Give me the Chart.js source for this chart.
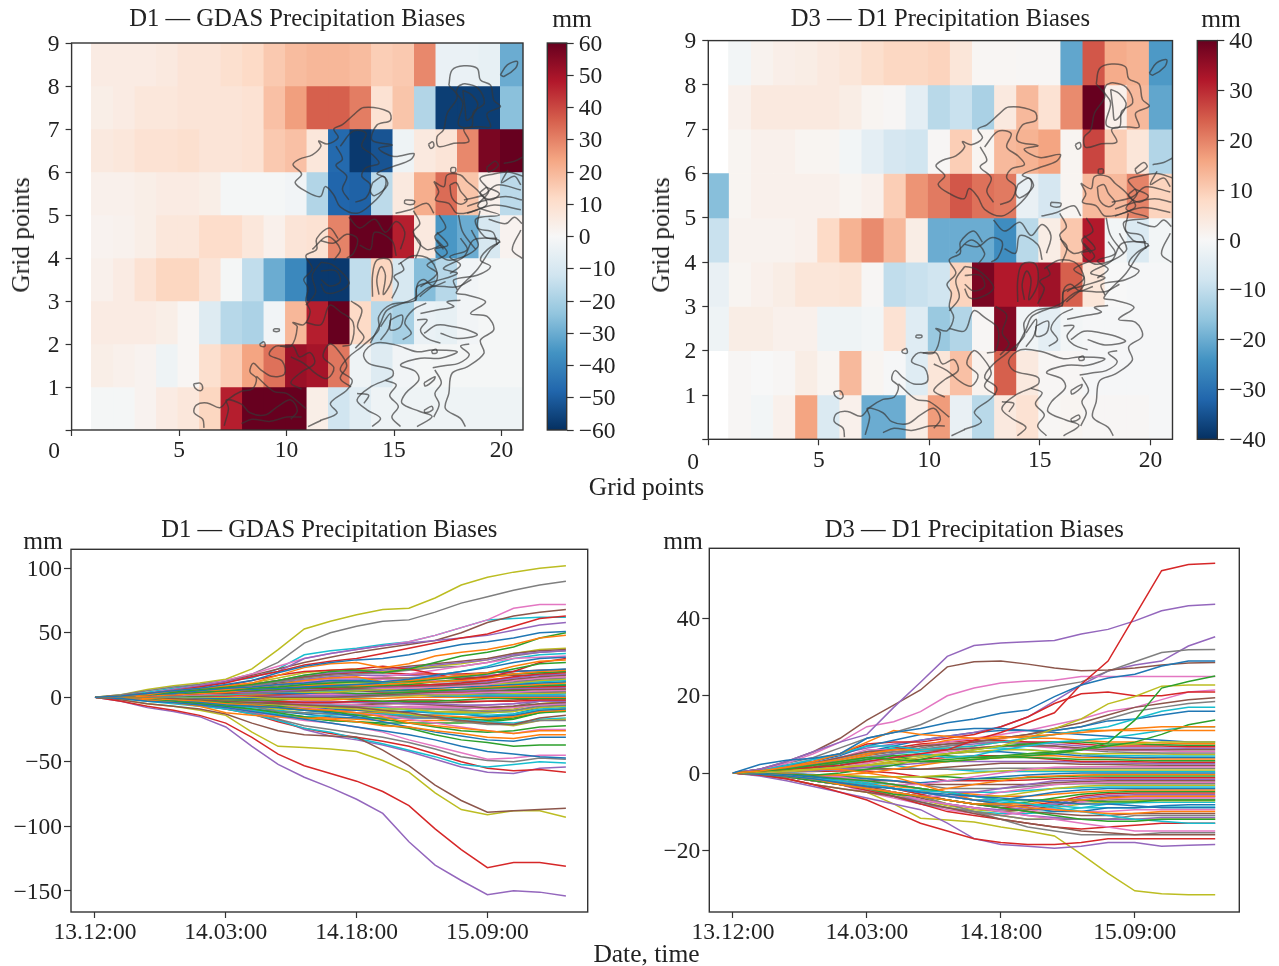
<!DOCTYPE html>
<html>
<head>
<meta charset="utf-8">
<title>Precipitation Biases</title>
<script src="https://cdn.jsdelivr.net/npm/chart.js@4"></script>
<style>
  html, body { margin: 0; padding: 0; background: #fff; }
  body { position: relative; width: 1279px; height: 966px; overflow: hidden; }
  canvas { position: absolute; }
  .lbl { position: absolute; transform: translate(-50%, -50%); font-family: "Liberation Serif", serif; font-size: 25.5px; color: #222; white-space: nowrap; }
  .rot { transform: translate(-50%, -50%) rotate(-90deg); }
  .tick0 { font-size: 23.5px; }
</style>
</head>
<body>
<canvas id="heatD1"></canvas>
<canvas id="barD1"></canvas>
<canvas id="heatD3"></canvas>
<canvas id="barD3"></canvas>
<canvas id="linesD1"></canvas>
<canvas id="linesD3"></canvas>

<div class="lbl" style="left:572px;top:19px">mm</div>
<div class="lbl" style="left:1221px;top:19px">mm</div>
<div class="lbl" style="left:43px;top:541px">mm</div>
<div class="lbl" style="left:683px;top:541px">mm</div>
<div class="lbl rot" style="left:21px;top:235px">Grid points</div>
<div class="lbl rot" style="left:661px;top:235px">Grid points</div>
<div class="lbl" style="left:646.5px;top:487px">Grid points</div>
<div class="lbl" style="left:646.5px;top:954px">Date, time</div>
<div class="lbl tick0" style="left:54px;top:450px">0</div>
<div class="lbl tick0" style="left:693px;top:461px">0</div>

<script>
// ==========================================
// DATA: HEATMAPS (rows bottom to top, columns left to right)
// ==========================================
const columnEdges = [0, 0.9, 1.9, 2.9, 3.9, 4.9, 5.9, 6.9, 7.9, 8.9, 9.9, 10.9, 11.9, 12.9, 13.9, 14.9, 15.9, 16.9, 17.9, 18.9, 19.9, 21];
const gridRowTicks = [1, 2, 3, 4, 5, 6, 7, 8, 9];
const gridColTicks = [0, 5, 10, 15, 20];

const d1GdasCells = [
  [null, -1, -1, 2, 5, 7, 13, 47, 60, 60, 60, 4, -12, -7, -3, -3, -3, -3, -3, -3, -3],
  [null, 4, 3, 2, -3, 1, 10, 15, 24, 33, 52, 50, 32, -3, -8, -2, -1, -1, -1, -1, -1],
  [null, 5, 5, 5, 4, 1, -8, -17, -19, -2, 20, 47, 60, 12, -17, -20, -4, -5, -2, -1, -1],
  [null, 3, 5, 9, 13, 13, 8, -1, -15, -30, -39, -58, -58, -15, 13, -10, -26, -17, -2, -1, -1],
  [null, 2, 2.5, 4, 7, 7, 11, 11, 7, 3, 8, 9, 30, 60, 60, 47, 6, -35, -30, -10, 2],
  [null, 3, 3, 4, 5, 5, 4, -1, -1, -1, -2, -18, -48, -49, -16, 6, 22, 34, 17, 3, -16],
  [null, 6, 7, 9, 9, 10, 8, 8, 9, 16, 18, 7, -47, -58, -52, -3, 6, 8, 29, 57, 60],
  [null, 4, 5, 7, 7, 8, 8, 8, 9, 18, 25, 36, 36, 31, 9, 17, -18, -57, -57, -57, -25],
  [null, 5, 5, 5, 6, 8, 8, 10, 12, 16, 19, 20, 20, 19, 15, 16, 29, -4, -4, -5, -30]
];

const d3D1Cells = [
  [null, 0.5, -1, 2, 16, -6, 2, -20, -20, 3, 17, -3, -11, 4, 6, 0.5, 1, 0.5, 0.5, 0.5, -0.5],
  [null, 0.5, 0, 0.5, 3, 1, 13, 1, -0.5, -5, 5, 12, 1.5, 24, 4, 0.5, 0.5, -0.5, -0.5, -0.5, -0.5],
  [-2, 3, 3, 2, 2, -2, -2, -1, 6, -5, -15, -12, 0.5, 37, -1.5, -4, -1, -0.5, -0.5, -0.5, -0.5],
  [-3, 1, 2, 3, 5, 5, 5.5, 0.5, -10, -9, -8, 9, 38, 32, 32, 34, 24, 5, 0, -0.5, -0.5],
  [-9, 1.5, 1.5, 1.5, 2, 8, 14, 19, 13, 3, -20, -20, -20, -25, -11, 3, 11, 32, -1, -6, -1],
  [-17, 1, 2, 2, 2, 2, 1, 2, 10, 18, 21, 25, 22, 21, -3, -7, 1, 13, 13, 20, 9],
  [null, 1, 2, 2, 1, 1, -1, -4, -7, -8, 0.5, 10, 1, 13, 14, 16, 1, 27, 10, 5, -12],
  [null, 2, 4, 4, 4, 4, 3, 1, 0.5, -4, -11, -9, -13, 4, 13, 6, 19, 40, 2, 13, -21],
  [null, -1, 1.5, 2.5, 3, 4, 5, 7, 8.5, 8.5, 9, 5, 0.7, 0.7, 0.5, 0.5, -21, 25, 15, 14, -23]
];

// ==========================================
// DATA: TERRAIN CONTOURS (grid point units, shared by both maps)
// ==========================================
const terrainContours = [
  [[18.32,.08],[18.09,.27],[17.39,.5],[17.55,.85],[17.7,1.32],[18.4,1.47],[19.18,1.78],[19.02,2.09],[19.64,2.33],[19.33,2.64],[18.56,2.71],[19.26,2.98],[18.4,3.14],[17.9,3.2],[18.9,3.75],[19.5,4.2],[19.9,4.4],[19.2,4.5],[18.8,4.9],[19.9,5.0],[18.9,5.2],[19.4,5.55],[19.0,5.85],[19.6,5.95],[20.3,6.0],[21,5.9]],
  [[16.07,.08],[16.77,.31],[16.2,.43],[15.37,.62],[15.53,.85],[16.15,1.16],[16,1.36],[15.3,1.51],[16.23,1.67],[17.16,1.67],[17.94,1.82],[16.77,1.86],[16.07,1.82],[15.06,1.98],[14.13,2.02],[13.59,1.78],[13.82,1.55],[14.91,1.4],[14.91,1.24],[13.9,1.0],[13.28,.7],[13.74,.47],[14.37,.27],[13.98,.08]],
  [[11.57,.22],[12.35,.39],[12.04,.62],[12.81,.93],[13.05,1.16],[12.5,1.4],[12.9,1.7],[13.5,1.94],[14.29,2.33],[14.29,2.64],[14.83,2.91],[16,3.02],[16.07,3.33],[16.85,3.45],[17.94,3.64],[17.3,3.76],[18.25,4.03],[18.71,4.42],[19.8,4.46]],
  [[13.9,2.02],[14.37,2.48],[14.68,2.79],[15.9,3.05],[16.7,3.33],[17.94,3.33],[18.6,3.5]],
  [[14.83,2.56],[15.37,2.67],[15.3,2.4],[14.83,2.33],[14.83,2.56]],
  [[16.75,1.84],[16.95,1.88],[17.0,1.8],[16.8,1.78],[16.75,1.84]],
  [[16.4,1.1],[16.9,1.24],[16.85,1.16],[16.45,1.02],[16.4,1.1]],
  [[16.4,.46],[16.75,.55],[16.8,.47],[16.45,.4],[16.4,.46]],
  [[11.6,3.9],[12.1,3.85],[12.7,3.6],[12.9,3.4],[12.3,3.2],[11.8,3.2],[11.6,3.4]],
  [[11.6,3.7],[12.3,3.7],[12.5,3.45],[12.0,3.35],[11.6,3.5]],
  [[14.0,3.1],[14.0,3.6],[14.2,3.95],[14.8,3.95],[14.9,3.5],[14.5,3.15],[14.6,3.6],[14.4,3.8],[14.2,3.5],[14.3,3.15]],
  [[15.2,3.85],[15.9,4.05],[16.7,3.95],[17,3.5],[16.2,3.1]],
  [[17,4.6],[17.5,4.3],[16.9,4.2],[17.6,3.95],[18.9,4.26],[18.6,4.65]],
  [[13.12,7.33],[13.59,7.5],[14.75,7.4],[14.83,7.2],[14.2,7.09],[13.98,6.74],[14.91,6.63],[14.29,6.55],[14.99,6.36],[15.92,6.43],[15.76,6.28],[14.91,6.12],[14.21,5.97],[14.6,5.85],[14.52,5.58],[13.98,5.27],[13.28,5.04],[12.5,5.19],[12.19,5.47],[11.8,5.66],[11.57,5.43],[10.9,5.55],[10.4,5.75],[10.7,5.95],[10.3,6.17],[10.6,6.3],[11.2,6.4],[11.6,6.6],[11.5,6.72],[11.9,6.65],[12.4,6.8],[12.2,7.0],[12.6,7.1],[13.12,7.33]],
  [[12.5,6.6],[13.1,6.95],[13.7,6.9],[13.5,6.6],[14.0,6.4],[14.3,6.2],[13.7,6.1],[13.5,5.9],[13.9,5.7],[13.7,5.4],[13.2,5.3]],
  [[12.3,6.6],[12.6,6.3],[12.3,6.15],[12.8,5.9],[12.6,5.6],[12.9,5.35]],
  [[17.55,8.02],[17.7,8.37],[18.25,8.47],[18.87,8.41],[19.02,8.14],[19.49,8.02],[19.64,7.67],[19.95,7.52],[19.33,7.36],[19.49,7.05],[19.02,7.05],[18.25,7.0],[18.48,6.71],[17.78,6.67],[17.08,6.59],[17,6.82],[17.3,6.98],[17.47,7.36],[17.94,7.75],[17.55,8.02]],
  [[18.0,8.0],[18.3,8.05],[18.9,7.95],[19.2,7.6],[18.7,7.4],[18.6,7.05],[18.0,7.1],[18.2,7.6],[17.9,7.85],[18.0,8.0]],
  [[18.2,7.9],[18.6,7.8],[18.9,7.55],[18.4,7.2],[18.3,7.5],[18.2,7.9]],
  [[19.95,8.26],[20.27,8.49],[20.73,8.57],[20.65,8.41],[20.11,8.22],[19.95,8.26]],
  [[16.6,6.65],[16.8,6.7],[16.85,6.6],[16.7,6.55],[16.6,6.65]],
  [[17.65,6.1],[17.85,6.1],[17.85,6.0],[17.65,6.0],[17.65,6.1]],
  [[19.3,6.1],[19.7,6.25],[19.85,6.15],[19.4,6.0],[19.3,6.1]],
  [[20.1,6.2],[20.6,6.25],[21,6.35]],
  [[16.85,5.78],[17.08,5.54],[16.93,5.35],[17.55,5.27],[17.94,5.04],[18.87,5.12],[19.33,5.27],[18.87,5.58],[18.4,5.78],[18.09,5.93],[17.47,5.93],[17.32,5.66],[16.85,5.78]],
  [[17.6,5.7],[17.9,5.75],[18.1,5.55],[18.4,5.35],[18.1,5.25],[17.7,5.4],[17.6,5.7]],
  [[18.25,5.35],[19.18,5.47],[19.8,5.7],[20.9,5.58]],
  [[18.4,5.2],[19.3,5.35],[20.2,5.43],[20.95,5.35]],
  [[18.4,5.04],[19.65,5.23],[20.9,5.12]],
  [[11.6,4.4],[12.2,4.35],[12.8,4.55],[13.3,4.45],[13.1,4.1],[12.8,4.0]],
  [[15.9,5.1],[16.2,4.8],[15.9,4.6],[16.5,4.2],[17.2,4.3]],
  [[17.1,5.0],[17.4,4.7],[16.9,4.5],[17.3,4.2]],
  [[18,5.0],[18.2,4.6],[18.8,4.2]],
  [[19,5.1],[18.9,4.7],[19.6,4.6],[19.8,4.3]],
  [[20.9,4.65],[20.5,4.19],[20.96,3.99]],
  [[6.16,.05],[6.1,.25],[5.7,.4],[5.8,.58],[6.3,.63],[6.9,.52],[7.3,.72],[7.9,.9],[8.4,.95],[8.6,1.2],[8.3,1.35],[8.45,1.55],[8.8,1.4],[9.3,1.25],[9.9,1.3],[9.8,1.6],[9.2,1.75],[9.5,1.95],[10.2,1.95],[10.5,2.4],[10.3,2.5],[10.8,2.45],[11.1,2.75],[10.9,3],[11.0,3.3],[10.8,3.5],[11.2,3.75],[10.9,4.05],[11.4,4.2],[11.4,4.45],[12,4.7],[12.4,4.45]],
  [[5.67,1.07],[5.98,1.09],[6.1,.97],[5.98,.91],[5.75,.97],[5.67,1.07]],
  [[9.7,1.95],[10.3,1.95],[10.6,1.7],[11.1,1.8],[11.3,1.55],[10.7,1.35],[10.2,1.1],[10.7,.95]],
  [[10.2,1.7],[10.8,1.55],[11.4,1.3],[11.9,1.2],[12.2,1.45],[11.7,1.7],[12,2.0],[12.4,1.85],[12.8,1.5],[12.5,1.2],[13,1.0]],
  [[10.9,2.5],[11.6,2.45],[12,2.9],[12.5,2.75],[13.1,2.5],[13,2.0],[12.6,1.95]],
  [[13,3],[13.5,2.8],[13.3,2.4],[13.6,2.15],[13.2,1.9]],
  [[7.1,.1],[7.3,.5],[7.2,.7],[7.9,.6],[8.3,.4],[9,.35],[9.6,.55],[10.2,.7],[10.5,.45],[10.2,.25]],
  [[7.9,.15],[8.4,.25],[9.2,.2],[10,.3],[10.7,.3]],
  [[8.6,1.25],[9.4,.9],[10,.85],[10.9,.5]],
  [[11,.08],[11.6,.22]],
  [[9.4,2.35],[9.65,2.35],[9.65,2.3],[9.4,2.3],[9.4,2.35]],
  [[8.75,2.0],[8.95,2.05],[9.0,1.95],[8.8,1.95],[8.75,2.0]],
  [[14.37,2.4],[14.83,2.71],[14.75,2.36],[14.37,2.09]],
  [[16.07,2.56],[16.54,2.56],[16.23,2.33],[16.54,2.13],[17.16,2.02]],
  [[17.16,2.25],[17.94,2.13],[18.87,2.21],[18.4,2.33],[17.78,2.4],[17,2.44],[16.4,2.25]],
  [[16.23,2.71],[17,2.79],[17.78,2.87],[17.47,2.98],[18.09,3.02]],
  [[17.94,3.26],[17.78,3.49],[18.87,3.6],[19.49,3.8],[19.02,3.95],[19.33,4.19],[19.95,4.38]],
  [[17.6,3.64],[18.09,3.84],[17.6,4.03],[18.4,4.19],[18.09,4.46]],
  [[16.23,3.33],[17,3.64],[16.54,3.84],[17.47,4.11],[17,4.42]],
  [[16,3.0],[16.1,3.4],[16.4,3.5],[16.8,3.35],[17.4,3.45]],
  [[15.3,3.9],[15.45,3.72],[15.0,3.57],[15.2,3.4],[14.9,3.06]],
  [[16,3.99],[16.23,4.34],[15.92,4.53]],
  [[13.28,.85],[13.82,.81],[13.6,.62]],
  [[14,5.75],[14.5,5.9],[14.7,5.7],[14.1,5.45],[13.9,5.55],[14,5.75]],
  [[15.5,5.35],[15.95,5.33],[15.9,5.25],[15.5,5.27],[15.5,5.35]],
  [[15.07,5.04],[15.76,5.12],[16.54,5.27],[16.85,5.04]],
  [[19.3,5.65],[19.0,5.5],[19.5,5.35],[19.9,5.5],[19.3,5.65]],
  [[20.3,6.05],[20.0,5.75],[20.6,5.9],[20.9,5.7]],
  [[10.9,2.9],[11.35,3.2],[11.2,3.6],[11.6,3.9]],
  [[11.2,4.2],[11.9,4.5],[12.5,4.2],[12.2,3.95]],
  [[12.9,4.95],[13.4,4.7],[14.1,4.9],[14.6,4.6],[15.1,4.85],[15.5,4.6],[15.3,4.2]],
  [[13.4,4.3],[13.9,4.2],[14.1,4.6],[14.9,4.4],[15.1,4.05]],
  [[19.4,4.9],[20.2,4.8],[20.6,4.95],[20.95,4.8]],
  [[14.6,1.15],[15.1,1.05],[14.8,.8],[15.2,.55],[14.9,.3],[15.3,.08]],
  [[16.9,1.4],[17.2,1.1],[16.9,.85],[17.1,.6],[16.85,.3]],
  [[18.5,2.0],[18.1,1.95],[18.5,1.75],[18.0,1.55],[17.4,1.5],[16.8,1.45]],
  [[15.4,2.1],[15.8,2.25],[15.5,2.5],[15.9,2.8],[16.5,2.95]]
];

// ==========================================
// DATA: TIME SERIES (one value every 3 hours)
// ==========================================
const hoursFromStart = [0, 3, 6, 9, 12, 15, 18, 21, 24, 27, 30, 33, 36, 39, 42, 45, 48, 51, 54];
const dateTickHours = [0, 15, 30, 45];
const dateTickLabels = ['13.12:00', '14.03:00', '14.18:00', '15.09:00'];
const d1ValueTicks = [-150, -100, -50, 0, 50, 100];
const d3ValueTicks = [-20, 0, 20, 40];
const d1ColorTicks = [-60, -50, -40, -30, -20, -10, 0, 10, 20, 30, 40, 50, 60];
const d3ColorTicks = [-40, -30, -20, -10, 0, 10, 20, 30, 40];

const d1GdasSeries = [
  [0,1,3,5,7,10,13,19,24,27,29,30,33,37,41,43,46,50,51],
  [0,1,2,5,7,9,11,17,23,26,27,23,26,32,35,37,41,46,48],
  [0,1,2,4,6,8,10,13,17,20,21,19,22,27,32,35,39,46,50],
  [0,1,3,5,8,11,16,20,25,28,30,34,38,42,46,49,55,61,63],
  [0,1,3,6,9,12,16,20,30,34,37,40,42,44,46,48,52,56,58],
  [0,1,3,5,8,12,17,22,27,31,35,38,41,44,50,58,63,66,68],
  [0,1,3,6,9,13,18,24,30,34,37,40,43,48,54,60,69,72,72],
  [0,2,5,8,10,13,18,27,42,50,55,59,60,66,73,78,83,87,90],
  [0,2,6,9,11,14,22,37,53,59,64,68,69,77,87,93,97,100,102],
  [0,1.5,4,7,10,12.5,15,22,33,36,38,41,43,48,54,60,61,62,62],

  [0,-1,-3,-4,-6,-8,-11,-14,-17,-20,-23,-26,-29,-33,-38,-42,-44,-46,-47],
  [0,-1,-2,-4,-7,-12,-14,-15,-16,-17,-19,-22,-23,-26,-28,-31,-32,-29,-29],
  [0,-1,-2,-3,-5,-7,-9,-12,-15,-18,-19,-21,-24,-29,-33,-35,-38,-37,-37],
  [0,-3,-7,-10,-14,-20,-31,-44,-53,-59,-65,-73,-84,-102,-118,-132,-128,-128,-131],
  [0,-3,-8,-11,-15,-23,-38,-52,-62,-70,-79,-90,-112,-130,-142,-153,-150,-151,-154],
  [0,-2,-5,-7,-9,-13,-20,-26,-29,-30,-31,-41,-53,-68,-80,-89,-88,-87,-86],
  [0,-1,-2,-4,-6,-8,-11,-15,-18,-20,-23,-27,-33,-38,-43,-48,-47,-45,-45],
  [0,-1,-2,-3,-5,-7,-11,-17,-22,-25,-28,-31,-35,-40,-46,-49,-50,-47,-48],
  [0,-2,-5,-7,-10,-14,-27,-38,-39,-40,-42,-49,-58,-74,-87,-91,-88,-88,-93],
  [0,-1,-3,-5,-7,-9,-13,-18,-24,-27,-32,-36,-41,-46,-52,-54,-52,-50,-51],

  [0,1,2,3,5,7,8,10,11,13,13,12,14,17,20,23,27,30,31],
  [0,1,2,3,5,6,8,10,13,15,16,12,13,15,17,19,24,28,29],
  [0,1,2,3,4,5,7,8,10,11,12,12,12,14,16,18,22,26,27],
  [0,1,2,4,6,9,13,17,20,21,22,24,22,18,14,16,20,27,30],
  [0,1,2,4,6,8,10,13,17,19,20,21,23,25,27,29,33,35,36],
  [0,1,2,4,5,7,10,13,16,18,20,22,24,26,28,30,34,36,37],
  [0,1,2,3,5,6,8,10,12,14,15,16,18,21,24,27,30,31,32],
  [0,1,2,3,5,7,9,12,15,17,18,19,21,23,24,27,32,35,36],
  [0,1,2,4,6,8,11,15,19,21,22,20,22,24,26,29,34,37,38],
  [0,1,2,3,5,7,8,10,13,14,15,11,13,17,20,24,30,33,34],

  [0,-1,-2,-3,-4,-6,-7,-8,-10,-12,-15,-19,-23,-27,-30,-33,-34,-31,-31],
  [0,-.5,-1,-2,-3,-5,-6,-8,-9,-10,-12,-15,-20,-22,-24,-26,-28,-26,-26],
  [0,-.5,-1,-2,-3,-4,-6,-7,-9,-11,-14,-17,-20,-23,-26,-27,-26,-23,-22],
  [0,-1,-2,-4,-6,-9,-13,-19,-24,-28,-31,-34,-38,-44,-50,-55,-57,-56,-58],
  [0,-1,-2,-4,-6,-9,-12,-17,-25,-30,-33,-37,-42,-48,-54,-58,-59,-55,-54],
  [0,-.5,-1,-1,-2,-3,-4,-5,-6,-7,-8,-10,-12,-15,-18,-20,-21,-16,-14],
  [0,-.5,-1,-2,-3,-4,-6,-7,-8,-10,-12,-14,-17,-20,-23,-26,-28,-25,-25],
  [0,-.5,-1,-2,-2,-4,-7,-11,-12,-13,-14,-14,-15,-16,-19,-21,-21,-18,-18],
  [0,-.5,-1,-1,-2,-3,-4,-6,-7,-8,-9,-11,-13,-16,-19,-20,-22,-18,-17],
  [0,-.5,-1,-1,-3,-6,-10,-13,-15,-14,-13,-13,-14,-15,-17,-19,-20,-17,-16],

  [0,1,2,3,4,5,6,7,8,9,10,11,13,15,17,19,20,21,22],
  [0,.5,1,2,3,4,6,7,9,10,9,10,11,12,13,15,18,20,21],
  [0,1,2,3,4,5,5,6,7,8,8,9,10,12,14,16,18,19,20],
  [0,1,1,2,3,4,5,6,7,7,8,9,9,10,11,13,16,18,19],
  [0,.5,1,2,3,4,4,5,6,7,8,8,9,10,11,12,15,17,18],
  [0,.5,1.5,2,3,3,4,5,5,6,7,8,9,9,10,11,14,16,17],
  [0,.5,1,2,2,3,4,6,7,8,8,7,7,8,9,10,13,15,16],
  [0,.5,1,1,2,3,3,4,5,6,6,7,8,9,10,11,12,14,15],
  [0,.5,1,2,3,4,5,5,4,4,5,6,7,8,9,10,11,13,14],
  [0,.5,1,1,2,2,3,4,4,5,6,7,8,8,9,10,11,12,13],

  [0,.5,1,2,3,3,3,3,3,4,5,5,6,7,8,9,10,11,12],
  [0,.5,1,1,2,2,2,3,3,4,5,6,7,7,8,8,9,10,11],
  [0,.5,.5,1,1,2,3,4,4,4,3,3,4,5,6,7,8,9,9.5],
  [0,.5,1,1,1,1,2,2,3,4,6,7,9,10,10,9,8,8,8.5],
  [0,.5,.5,1,1,2,2,1,1,1,2,3,4,5,5,6,7,7,7.5],
  [0,.5,1,2,2,2,1,0,0,0,1,2,3,4,5,5,6,6,6.5],
  [0,0,.5,1,1,1,1,2,2,2,2,3,3,3,3,4,4,5,5.5],
  [0,0,.5,.5,1,1,1,1,1,0,0,1,2,3,3,3,4,4,4.5],
  [0,0,0,.5,.5,0,0,-1,-1,-1,0,1,1,2,2,3,3,3,3.5],
  [0,0,0,0,.5,1,1,0,0,0,1,2,2,2,1,2,2,2,2.5],

  [0,0,0,-.5,-.5,-1,-1,0,1,1,1,2,2,1,1,1,1,1,1],
  [0,0,-.5,-.5,-1,-1,-1,-1,-2,-2,-1,-1,0,0,0,0,0,0,0],
  [0,0,-.5,-1,-1,-2,-2,-2,-1,-1,-2,-3,-3,-3,-2,-1,-1,-1,-1],
  [0,0,-.5,-1,-1,-1,-2,-3,-4,-4,-3,-3,-2,-2,-3,-3,-3,-2,-2],
  [0,-.5,-1,-1,-2,-2,-3,-3,-3,-3,-4,-4,-5,-5,-6,-6,-5,-3,-3],
  [0,-.5,-1,-1,-2,-3,-4,-4,-4,-4,-4,-5,-5,-6,-7,-8,-7,-5,-4],
  [0,-.5,-1,-2,-2,-3,-3,-4,-5,-5,-6,-7,-8,-8,-8,-9,-8,-6,-5],
  [0,-.5,-1,-2,-3,-4,-5,-5,-6,-7,-7,-7,-8,-9,-10,-11,-10,-7,-6],
  [0,-.5,-1,-1,-2,-3,-4,-6,-7,-8,-8,-9,-9,-11,-12,-12,-11,-8,-7],
  [0,-.5,-1,-2,-3,-4,-4,-5,-6,-6,-7,-8,-10,-12,-13,-14,-13,-9,-8],

  [0,-.5,-1,-1,-2,-3,-4,-6,-8,-9,-10,-11,-11,-12,-13,-15,-14,-10,-9],
  [0,-.5,-1,-2,-3,-4,-6,-7,-8,-9,-10,-12,-14,-14,-15,-16,-15,-11,-10],
  [0,-.5,-1,-2,-2,-3,-5,-8,-10,-11,-12,-13,-14,-15,-16,-18,-16,-12,-11],
  [0,.8,2,3,5,7,10,13,16,18,19,19,18,18,18,19,20,21,21.5],
  [0,.7,2,3,5,7,9,12,14,16,17,17,17,16,16,17,18,19,19.5],
  [0,.6,1.5,3,5,6,8,11,13,15,15,15,15,15,15,16,17,17,17.5],
  [0,.6,1.5,3,4,6,8,10,12,13,14,14,13,13,13,14,15,15,15.5],
  [0,.5,1.5,2,4,6,7,9,11,12,12,12,12,12,12,13,13,13,13.5],
  [0,.5,1,2,4,5,7,8,10,11,11,11,10,10,10,11,11,11,11.5],
  [0,.5,1,2,3,5,6,8,9,10,10,10,9,9,9,9,10,10,10],
  [0,.4,1,2,3,4,6,7,8,9,9,8,8,8,8,8,8,9,9],
  [0,.3,1,2,3,4,5,6,7,7,7,7,6,6,6,7,7,7,7],
  [0,.3,1,1,2,4,5,6,6,6,6,5,5,5,5,5,5,6,6],
  [0,.3,.5,1,2,3,4,5,5,5,5,4,4,4,4,4,4,4,4],
  [0,.2,.5,1,2,3,3,4,4,3,3,3,3,3,3,2,3,3,3],
  [0,-.2,-.5,-1,-2,-3,-4,-5,-6,-6,-6,-5,-4,-4,-4,-3,-2,-1,-.5],
  [0,-.3,-1,-2,-3,-4,-5,-6,-7,-8,-8,-8,-7,-7,-7,-6,-5,-2,-1.5],
  [0,-.4,-1,-2,-3,-4,-6,-8,-9,-10,-10,-10,-9,-9,-9,-8,-7,-3,-2.5],
  [0,-.4,-1,-2,-3,-5,-7,-9,-10,-11,-12,-12,-11,-11,-11,-10,-9,-5,-3.5],
  [0,-.5,-1,-2,-4,-6,-8,-10,-12,-13,-14,-14,-14,-13,-13,-12,-11,-6,-5],
  [0,-.5,-1,-2,-4,-6,-9,-11,-13,-15,-16,-16,-16,-16,-16,-15,-13,-8,-6.5],
  [0,-.5,-1.5,-3,-4,-7,-10,-13,-15,-16,-17,-18,-18,-18,-18,-17,-15,-10,-8.5],
  [0,-.6,-1.5,-3,-5,-7,-10,-14,-16,-18,-19,-20,-20,-20,-20,-19,-17,-12,-10]
];

const d3D1Series = [
  [0,2.2,3.3,3.8,5,9,10.5,11.5,13,14,15.5,16.3,19.8,22.8,24.6,25.6,27.7,29,29],
  [0,.5,1.5,3,5,8,11,10,9.5,9,9,9.5,10,10.5,11,11,11,11,11],
  [0,.5,1,2,3,4,3.5,3,3.5,4,4.5,5,5.5,6,7.8,13.7,22,23.7,25.1],
  [0,.5,1,1.5,2,3,4,5,6,8.5,10.5,13,15.6,23,29,40.7,52.4,54,54.3],
  [0,1,3,5.5,8,10,17,23.5,30.2,33,33.7,34,34.3,36,37.2,39.4,42,43.3,43.7],
  [0,1,3,5.5,9,13.7,17.6,21.5,27.5,28.8,29,28.2,27.2,26.5,26.7,27.2,28,28.5,28.6],
  [0,1,2.5,5,8,12,13.3,15.9,20,22,23.3,23.8,24,25,25,25,25,25,25],
  [0,1,2.5,4,6.5,9,10.5,12.5,15.5,18,19.8,21,22.4,23.6,26.4,28.8,31.2,31.9,32],
  [0,.3,.8,1,1.5,2,3,4,5,6,7,9,11.5,14,17.9,19.8,22.5,22.8,22.8],
  [0,.7,2,3.5,5,7,7,6,6.5,7,8,9,10,11,12,14,16,17,17],

  [0,1,2,3,4.5,7,8.5,10,11,11.5,11.5,11,11,12,13.5,14,15,16,16],
  [0,.8,1.5,2.5,3.5,5,6,6,6.5,7,8,9,10,11,11,11.5,12,12,12],
  [0,.3,.8,1.5,2.5,3.5,4.5,3,3,3.5,4,4.5,5,6,7,8,10,12.5,13.7],
  [0,.6,1.5,3,5,7.5,8,8,9,10,12,14.5,18,20.5,21,20,20,21,21],
  [0,.8,2,3.5,5,6.5,7.5,8.5,9.5,10.5,12,14.5,18.6,22.8,26.4,28,29,32.9,35.3],
  [0,.5,1.5,2.5,4,5.5,6,7,7.5,8,9,10,11.5,13,15,17,18,19,19.5],
  [0,.5,1.5,2.5,4,6,6,7,8,9,10,11,12.5,14,16,17,19,21,21.5],
  [0,.5,1,2,3.5,5,5.5,6,7,8,9,10,11,12,14,16,17,18,18.5],
  [0,.2,.5,1,1.5,2,2.5,3,3,3.5,4,5,5.5,6,7,7.5,8,8,8],
  [0,.5,1.2,2.5,4,5.5,6.5,5,4,4.5,6,7,8,8.5,9,10,11,12,12],

  [0,-.3,-.8,-1.5,-2.5,-3.5,-4,-5,-5.5,-6,-6.5,-7,-7.5,-8,-8,-8.5,-9,-9,-9],
  [0,-.3,-.8,-1.5,-3,-4,-5,-6,-7,-8,-8,-9,-9.5,-10,-10.5,-10.5,-10,-10,-10],
  [0,-.3,-1,-2,-3,-4,-5.5,-6,-7,-8,-9,-10,-11,-12,-12.5,-12.5,-12,-12,-12],
  [0,-.5,-1.5,-3,-5,-7,-10,-13,-15,-17,-18,-18.5,-18.5,-18,-17,-17,-17,-17,-17],
  [0,-.8,-2,-3.5,-5,-6.5,-8,-9.5,-13,-17,-18.5,-19,-19.5,-19,-18,-18,-19,-18.7,-18.5],
  [0,-.5,-1.5,-3,-4,-5,-6,-7.5,-9,-10.5,-12,-13,-14,-15,-15.5,-16,-16,-16,-16],
  [0,-.5,-1,-2,-3,-4,-5,-7,-8,-9,-10,-11,-12,-13,-14,-15,-15,-15,-15],
  [0,-.4,-1,-2,-3,-4,-5,-6,-8,-10,-12,-14,-15,-16,-16,-16,-15.5,-15.5,-15.5],
  [0,-.5,-1.5,-3,-4,-5,-8,-11.7,-12.2,-12.7,-14,-15,-16.3,-21,-26,-30.5,-31.3,-31.5,-31.5],
  [0,-.3,-.8,-1.5,-2,-3,-4,-4.5,-5,-6,-7,-8,-9,-10,-11,-12,-12.5,-13,-13],

  [0,-.2,-.5,-1,-2,-3,-4,-5,-6,-7,-8,-9,-10,-10,-9,-9,-8.5,-8.2,-8.2],
  [0,.3,.8,1,1,0,-1,-3,-5,-7,-8,-8,-7,-7,-6.5,-6,-6,-6,-6],
  [0,-.2,-.5,-1,-1.5,-2,-3,-4,-5,-6,-7,-7,-7,-7,-7.5,-7.5,-7,-7,-7],
  [0,-.5,-1,-2,-3,-4.5,-6,-8,-10,-11,-12,-13,-14,-14.5,-14,-13.5,-13,-13,-13],
  [0,-.4,-1,-2,-3,-4,-5,-7,-8,-9,-10,-11,-11.5,-12,-12,-12,-11.5,-11.5,-11.5],
  [0,-.3,-1,-1.5,-2.5,-3.5,-5,-6,-7,-8,-9,-10,-10.5,-11,-11,-10.5,-10.5,-10.5,-10.5],
  [0,-.3,-.8,-1.5,-2,-3,-4,-5,-6,-7,-8,-9,-9.5,-10,-10,-9.5,-9.5,-9.5,-9.5],
  [0,-.4,-1,-2,-3,-4,-6,-8,-9,-10,-11,-12,-12,-12,-12,-11,-11,-11,-11],
  [0,-.4,-1,-1.5,-2,-3.5,-5,-6,-8,-10,-11,-12,-12,-12,-12,-12,-12,-12,-12],
  [0,-.2,-.6,-1,-2,-3,-4,-5,-6,-7,-7.5,-8,-8.5,-9,-9,-9,-8.8,-8.8,-8.8],

  [0,.4,1.2,2.4,4,5.5,7,8.5,9.5,10.5,11,11,10.5,10,9.5,9,8.5,8,8],
  [0,.3,1,2,3,4.5,6,7,8.5,9,9.5,9,9,8.5,8,8,7.8,7.6,7.6],
  [0,-.2,-.4,-.6,0,1,2,3.5,5,6,7,7.5,8,8,7.5,7.5,7.3,7.2,7.2],
  [0,.4,1,2,3.5,5,6.5,7.5,8,8.5,8.5,8,8,7.5,7,7,7,6.8,6.8],
  [0,.2,.8,1.5,2.5,3.5,5,6,7,7.5,8,8,7.5,7,6.5,6.5,6.5,6.4,6.4],
  [0,.3,.8,1.5,3,4.5,5.5,6,6,6.5,7,7,7,6.5,6,6,6,6,6],
  [0,.2,.5,1,1.5,2.5,4,5,5.5,6.5,7,7,6.5,6,6,5.8,5.7,5.6,5.6],
  [0,.3,1,2,3,4,5,6.5,7.5,8,8,7.5,7,6,5.5,5.3,5.2,5.2,5.2],
  [0,.1,.3,.8,1.5,2.5,3.5,4.5,5,5.5,6,6,5.5,5,5,5,4.9,4.8,4.8],
  [0,.3,.8,1.5,2.5,4,5,5.5,6,6.5,6.5,6,5.5,5,4.5,4.5,4.4,4.4,4.4],

  [0,.2,.6,1.2,2,3,4,4.5,5,5.5,5.5,5,5,4.5,4.2,4,4,4,4],
  [0,-.1,-.3,-.5,-.5,0,1,2,3,3.5,4,4.5,4.5,4,4,3.8,3.6,3.6,3.6],
  [0,.2,.5,1,2,3.5,4.5,5,4.5,4,4,4,3.8,3.5,3.5,3.3,3.2,3.2,3.2],
  [0,.1,.4,.8,1.5,2,3,3.5,4,4.5,4.5,4,3.5,3,3,2.9,2.8,2.8,2.8],
  [0,.1,.3,.6,1,1.5,2,2.5,3,3,3,3,3,2.8,2.6,2.5,2.4,2.4,2.4],
  [0,.2,.5,1,1.5,1.5,1,1,1.5,2,2.5,2.5,2.5,2.3,2.2,2.1,2,2,2],
  [0,-.1,-.3,-.5,-1,-2,-3,-3,-2,-1,0,1,1.5,1.6,1.6,1.6,1.6,1.6,1.6],
  [0,.1,.3,.6,1,1,1,1,1,1,1.2,1.2,1.2,1.2,1.2,1.2,1.2,1.2,1.2],
  [0,-.1,-.3,-.5,-.5,-1,-1,-1,-.5,0,.5,.8,.8,.8,.8,.8,.8,.8,.8],
  [0,.1,.2,.5,1,2,2,1,1,.5,.4,.4,.4,.4,.4,.4,.4,.4,.4],

  [0,-.1,-.2,-.4,-1,-1.5,-2,-2.5,-2,-1.5,-1,-.5,-.2,0,0,0,0,0,0],
  [0,-.2,-.5,-1,-2,-3,-4,-5,-4,-3,-2,-1,-.8,-.5,-.4,-.4,-.4,-.4,-.4],
  [0,0,-.2,-.5,-.8,-1,-1,-1,-1,-1.5,-1.5,-1.2,-1,-.8,-.8,-.8,-.8,-.8,-.8],
  [0,.1,.3,.4,.5,.5,0,-1,-2,-2,-2,-1.8,-1.5,-1.3,-1.2,-1.2,-1.2,-1.2,-1.2],
  [0,-.2,-.6,-1,-1.5,-2,-3,-4,-5,-5,-4,-3,-2,-1.8,-1.6,-1.6,-1.6,-1.6,-1.6],
  [0,-.1,-.3,-.6,-1,-2,-2,-3,-3,-3,-3,-3,-2.5,-2.2,-2,-2,-2,-2,-2],
  [0,-.3,-.8,-1.5,-2.5,-3.5,-5,-6,-6,-6,-5,-4,-3,-2.6,-2.4,-2.4,-2.4,-2.4,-2.4],
  [0,-.1,-.2,-.5,-1,-1.5,-2,-3,-4,-4,-4,-3.5,-3,-2.8,-2.8,-2.8,-2.8,-2.8,-2.8],
  [0,-.2,-.5,-1,-1.5,-2,-3,-4,-5,-6,-6,-5,-4,-3.4,-3.2,-3.2,-3.2,-3.2,-3.2],
  [0,-.2,-.4,-.8,-1.5,-2.5,-3,-4,-5,-5,-5,-4.5,-4,-3.8,-3.6,-3.6,-3.6,-3.6,-3.6],

  [0,-.3,-.6,-1.2,-2,-3,-4,-5,-6,-7,-7,-6,-5,-4.4,-4,-4,-4,-4,-4],
  [0,-.2,-.5,-1,-2,-3,-3.5,-4,-5,-5.5,-6,-6,-5.5,-5,-4.6,-4.4,-4.4,-4.4,-4.4],
  [0,-.3,-.8,-1.5,-2.5,-4,-5,-6,-7,-8,-8,-7.5,-6.5,-5.5,-5,-4.8,-4.8,-4.8,-4.8],
  [0,-.3,-.7,-1.2,-2,-3,-4,-5.5,-7,-8,-9,-8.5,-7.5,-6,-5.4,-5.2,-5.2,-5.2,-5.2],
  [0,-.4,-1,-1.8,-3,-4.5,-6,-7,-8,-9,-9.5,-9,-8,-6.5,-5.8,-5.6,-5.6,-5.6,-5.6],
  [0,-.3,-.9,-1.5,-2.5,-3.5,-5,-6.5,-8,-9,-10,-9.5,-8.5,-7,-6.2,-6,-6,-6,-6],
  [0,-.4,-1,-2,-3,-5,-6.5,-8,-9.5,-10.5,-11,-10,-9,-7.5,-6.6,-6.4,-6.4,-6.4,-6.4],
  [0,-.2,-.5,-1,-1.5,-2.5,-4,-5.5,-7,-8,-8.5,-8.5,-8,-7.5,-7,-6.8,-6.8,-6.8,-6.8],
  [0,-.3,-.8,-1.5,-2.5,-4,-5.5,-7,-8.5,-9.5,-10,-9.5,-9,-8,-7.4,-7.2,-7.2,-7.2,-7.2],
  [0,-.4,-1,-1.8,-3,-4.5,-6,-7.5,-9,-10,-10.5,-10.5,-10,-9,-8,-7.7,-7.6,-7.6,-7.6]
];

// ==========================================
// STYLE
// ==========================================
const TEXT_COLOR = '#222';
const SPINE_COLOR = '#333';
const FONT_FAMILY = '"Liberation Serif", serif';
const TICK_FONT = { family: FONT_FAMILY, size: 23.5 };
const TITLE_FONT = { family: FONT_FAMILY, size: 24.6, weight: 'normal', lineHeight: 1.2 };
const CYCLE = ['#1f77b4', '#ff7f0e', '#2ca02c', '#d62728', '#9467bd', '#8c564b', '#e377c2', '#7f7f7f', '#bcbd22', '#17becf'];
const RDBU = [[5,48,97],[33,102,172],[67,147,195],[146,197,222],[209,229,240],[247,247,247],[253,219,199],[244,165,130],[214,96,77],[178,24,43],[103,0,31]];

function colorFor(value, limit) {
    const t = Math.max(0, Math.min(1, (value + limit) / (2 * limit))) * (RDBU.length - 1);
    const i = Math.min(Math.floor(t), RDBU.length - 2);
    const f = t - i;
    const c = RDBU[i].map((v, k) => Math.round(v + (RDBU[i + 1][k] - v) * f));
    return `rgb(${c[0]},${c[1]},${c[2]})`;
}

function minusLabel(v) {
    return String(v).replace('-', '\u2212');
}

// Spines all round the plot area
const framePlugin = {
    id: 'frame',
    afterDatasetsDraw(chart) {
        const { ctx, chartArea: a } = chart;
        ctx.save();
        ctx.strokeStyle = SPINE_COLOR;
        ctx.lineWidth = 1.4;
        ctx.strokeRect(a.left, a.top, a.right - a.left, a.bottom - a.top);
        ctx.restore();
    }
};

// ==========================================
// LAYOUT HELPERS
// ==========================================
function placeCanvas(id, left, top, width, height) {
    const canvas = document.getElementById(id);
    canvas.width = width;
    canvas.height = height;
    canvas.style.left = left + 'px';
    canvas.style.top = top + 'px';
    canvas.style.width = width + 'px';
    canvas.style.height = height + 'px';
    return canvas.getContext('2d');
}

function valueAxis(axis, min, max, ticks, fixedSize, opts) {
    return {
        type: 'linear',
        axis,
        position: opts.position,
        min,
        max,
        offset: false,
        border: { display: false },
        grid: { offset: false, drawOnChartArea: false, drawTicks: true, tickLength: opts.tickLength, tickColor: SPINE_COLOR, tickWidth: 1.2 },
        afterBuildTicks(scale) { scale.ticks = ticks.map(v => ({ value: v })); },
        afterFit(scale) {
            if (axis === 'x') scale.height = fixedSize;
            else scale.width = fixedSize;
        },
        ticks: {
            font: TICK_FONT,
            color: TEXT_COLOR,
            padding: opts.padding,
            labelOffset: axis === 'y' ? 1.5 : 0,
            autoSkip: false,
            maxRotation: 0,
            callback: opts.label
        }
    };
}

function titleOptions(text, gap) {
    return {
        display: true,
        text,
        color: TEXT_COLOR,
        font: TITLE_FONT,
        fullSize: false,
        padding: { top: 0, bottom: gap }
    };
}

// ==========================================
// CHARTS
// ==========================================
function drawHeatmap(id, box, plot, title, cells, limit) {
    const ctx = placeCanvas(id, box.left, box.top, box.width, box.height);
    const datasets = [];

    terrainContours.forEach(line => {
        datasets.push({
            type: 'line',
            data: line.map(p => ({ x: p[0], y: p[1] })),
            borderColor: 'rgba(55,55,55,0.68)',
            borderWidth: 1.5,
            pointRadius: 0,
            tension: 0.35,
            order: 0
        });
    });

    for (let c = 0; c < columnEdges.length - 1; c++) {
        const used = cells.map((row, r) => ({ r, v: row[c] })).filter(e => e.v !== null);
        if (used.length === 0) continue;
        datasets.push({
            type: 'bar',
            data: used.map(e => ({ y: e.r + 0.5, x: [columnEdges[c], columnEdges[c + 1] + 0.03] })),
            backgroundColor: used.map(e => colorFor(e.v, limit)),
            borderWidth: 0,
            borderSkipped: false,
            grouped: false,
            barPercentage: 1.015,
            categoryPercentage: 1,
            order: 1
        });
    }

    new Chart(ctx, {
        type: 'bar',
        data: { datasets },
        plugins: [framePlugin],
        options: {
            indexAxis: 'y',
            responsive: false,
            animation: false,
            events: [],
            layout: { padding: { top: 0, right: box.left + box.width - plot.right, bottom: 0, left: 0 } },
            plugins: {
                legend: { display: false },
                tooltip: { enabled: false },
                title: titleOptions(title, plot.top - box.top - 24.6 * 1.2)
            },
            scales: {
                x: valueAxis('x', 0, 21, gridColTicks, box.top + box.height - plot.bottom, {
                    position: 'bottom', tickLength: 6, padding: 1, label: v => (v === 0 ? '' : String(v))
                }),
                y: valueAxis('y', 0, 9, gridRowTicks.concat([0]), plot.left - box.left, {
                    position: 'left', tickLength: 6, padding: 6, label: v => (v === 0 ? '' : String(v))
                })
            }
        }
    });
}

function drawColorbar(id, box, plot, limit, ticks) {
    const ctx = placeCanvas(id, box.left, box.top, box.width, box.height);
    new Chart(ctx, {
        type: 'bar',
        data: {
            labels: [''],
            datasets: [{
                data: [[-limit, limit]],
                borderWidth: 0,
                borderSkipped: false,
                barPercentage: 1,
                categoryPercentage: 1,
                backgroundColor(c) {
                    const a = c.chart.chartArea;
                    if (!a) return '#fff';
                    const g = c.chart.ctx.createLinearGradient(0, a.bottom, 0, a.top);
                    RDBU.forEach((s, i) => g.addColorStop(i / (RDBU.length - 1), `rgb(${s[0]},${s[1]},${s[2]})`));
                    return g;
                }
            }]
        },
        plugins: [framePlugin],
        options: {
            responsive: false,
            animation: false,
            events: [],
            layout: { padding: { top: plot.top - box.top, left: plot.left - box.left, bottom: box.top + box.height - plot.bottom, right: 0 } },
            plugins: { legend: { display: false }, tooltip: { enabled: false } },
            scales: {
                x: { display: false },
                y: valueAxis('y', -limit, limit, ticks, box.left + box.width - plot.right, {
                    position: 'right', tickLength: 7, padding: 5, label: minusLabel
                })
            }
        }
    });
}

function drawLines(id, box, plot, title, series, xRange, yRange, yTicks) {
    const ctx = placeCanvas(id, box.left, box.top, box.width, box.height);
    new Chart(ctx, {
        type: 'line',
        data: {
            labels: hoursFromStart,
            datasets: series.map((values, i) => ({
                data: values,
                borderColor: CYCLE[i % CYCLE.length],
                borderWidth: 1.5,
                pointRadius: 0,
                tension: 0
            }))
        },
        plugins: [framePlugin],
        options: {
            responsive: false,
            animation: false,
            events: [],
            layout: { padding: { top: 0, right: box.left + box.width - plot.right, bottom: 0, left: 0 } },
            plugins: {
                legend: { display: false },
                tooltip: { enabled: false },
                title: titleOptions(title, plot.top - box.top - 24.6 * 1.2)
            },
            scales: {
                x: valueAxis('x', xRange[0], xRange[1], dateTickHours, box.top + box.height - plot.bottom, {
                    position: 'bottom', tickLength: 6, padding: 1, label: v => dateTickLabels[dateTickHours.indexOf(v)]
                }),
                y: valueAxis('y', yRange[0], yRange[1], yTicks, plot.left - box.left, {
                    position: 'left', tickLength: 7, padding: 2, label: minusLabel
                })
            }
        }
    });
}

drawHeatmap('heatD1', { left: 0, top: 5, width: 531, height: 470 }, { left: 71.6, right: 523, top: 43, bottom: 430 },
    'D1 \u2014 GDAS Precipitation Biases', d1GdasCells, 60);
drawHeatmap('heatD3', { left: 640, top: 5, width: 541, height: 481 }, { left: 708.3, right: 1172.5, top: 40.6, bottom: 439.3 },
    'D3 \u2014 D1 Precipitation Biases', d3D1Cells, 40);
drawColorbar('barD1', { left: 540, top: 13, width: 92, height: 447 }, { left: 547.3, right: 566.7, top: 43, bottom: 430 }, 60, d1ColorTicks);
drawColorbar('barD3', { left: 1190, top: 10, width: 89, height: 460 }, { left: 1197.3, right: 1217.3, top: 40.6, bottom: 439.3 }, 40, d3ColorTicks);
drawLines('linesD1', { left: 0, top: 516, width: 596, height: 434 }, { left: 71, right: 587.7, top: 549.3, bottom: 912 },
    'D1 \u2014 GDAS Precipitation Biases', d1GdasSeries, [-2.75, 56.5], [-166.4, 114.7], d1ValueTicks);
drawLines('linesD3', { left: 640, top: 516, width: 609, height: 434 }, { left: 709.3, right: 1239.3, top: 548.3, bottom: 912 },
    'D3 \u2014 D1 Precipitation Biases', d3D1Series, [-2.65, 56.7], [-36, 58.2], d3ValueTicks);
</script>
</body>
</html>
